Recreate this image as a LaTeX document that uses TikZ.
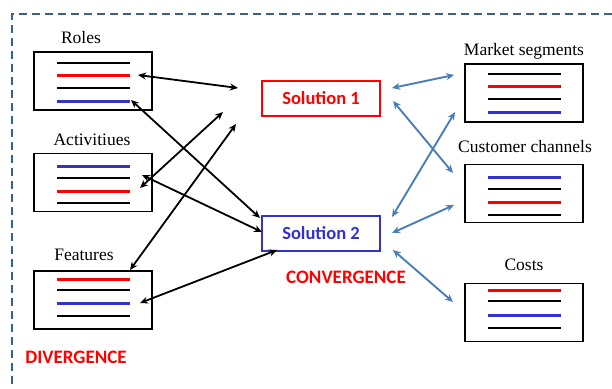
\documentclass[tikz,border=0pt]{standalone}
\usepackage{fontspec}
\setmainfont{Liberation Serif}
\newfontfamily\calibri{Carlito}
\usetikzlibrary{arrows.meta}
\definecolor{steel}{RGB}{74,126,187}
\definecolor{myblue}{RGB}{51,51,204}
\definecolor{framecol}{RGB}{56,98,142}
\tikzset{
  item/.style={draw=black, line width=1.6pt, minimum width=118pt, minimum height=58pt, inner sep=0pt},
  lbl/.style={font=\fontsize{17.5}{19}\selectfont, inner sep=0pt},
  sol/.style={draw, line width=1.3pt, minimum width=118pt, minimum height=35pt, inner sep=0pt, font=\fontsize{18.5}{20}\selectfont\calibri\bfseries},
  big/.style={text=red, inner sep=0pt, font=\fontsize{19}{21}\selectfont\calibri\bfseries},
  bk/.style={black, line width=1.2pt},
  rd/.style={red, line width=3pt},
  bu/.style={myblue, line width=3pt},
  blk/.style={{Stealth[length=8pt,width=7pt]}-{Stealth[length=8pt,width=7pt]}, black, line width=1.8pt},
  stl/.style={{Stealth[length=8pt,width=7pt,inset=2.5pt]}-{Stealth[length=8pt,width=7pt,inset=2.5pt]}, steel, line width=1.9pt},
  frame/.style={framecol, line width=2.3pt, dash pattern=on 8pt off 5pt},
}
\begin{document}
\begin{tikzpicture}[x=1pt,y=-1pt]
\useasboundingbox (0,0) rectangle (612,388);
\draw[frame] (612,14) -- (12,14) -- (12,388);

% left boxes
\node[item] (roles) at (93,81) {};
\node[item] (acts) at (93,182.5) {};
\node[item] (feats) at (93,300) {};
\node[lbl] (rolesl) at (81,38) {Roles};
\node[lbl] (actsl) at (92,140) {Activitiues};
\node[lbl] (featsl) at (84,255) {Features};
\foreach \y/\s in {63/bk,75/rd,88/bk,101/bu,166/bu,178/bk,191/rd,203/bk,279/rd,290/bk,303/bu,316/bk}
  \draw[\s] (57,\y) -- (130,\y);

% right boxes
\node[item] (market) at (524,93) {};
\node[item] (cust) at (524,193.5) {};
\node[item] (costs) at (524,312.5) {};
\node[lbl] (marketl) at (524,51) {Market segments};
\node[lbl] (custl) at (525,147) {Customer channels};
\node[lbl] (costsl) at (524,265) {Costs};
\foreach \y/\s in {74/bk,86/rd,99/bk,112/bu,177/bu,189/bk,202/rd,215/bk,290/rd,301/bk,315/bu,328/bk}
  \draw[\s] (488,\y) -- (561,\y);

% solutions
\node[sol, draw=red, text=red] (sol1) at (321,98.5) {Solution 1};
\node[sol, draw=myblue, text=myblue] (sol2) at (321,233.5) {Solution 2};
\node[big] (conv) at (346,277) {CONVERGENCE};
\node[big] (div) at (76,357) {DIVERGENCE};

% arrow end points
\coordinate (r1) at (138,75);  \coordinate (s1a) at (238,88);
\coordinate (r2) at (131,100); \coordinate (s2a) at (260,218);
\coordinate (a1) at (142,175); \coordinate (s2b) at (262,232);
\coordinate (a2) at (140,188); \coordinate (s1b) at (223,112);
\coordinate (f1) at (130,270); \coordinate (s1c) at (236,124);
\coordinate (f2) at (140,303); \coordinate (s2c) at (277,250);

\draw[blk] (r1) -- (s1a);
\draw[blk] (r2) -- (s2a);
\draw[blk] (a1) -- (s2b);
\draw[blk] (a2) -- (s1b);
\draw[blk] (f1) -- (s1c);
\draw[blk] (f2) -- (s2c);

\coordinate (o1) at (392,88);  \coordinate (m1) at (454,75);
\coordinate (o2) at (393,101); \coordinate (c1) at (453,173);
\coordinate (t1) at (392,217); \coordinate (m2) at (455,112);
\coordinate (t2) at (392,233); \coordinate (c2) at (454,205);
\coordinate (t3) at (393,250); \coordinate (k1) at (453,302);

\draw[stl] (o1) -- (m1);
\draw[stl] (o2) -- (c1);
\draw[stl] (t1) -- (m2);
\draw[stl] (t2) -- (c2);
\draw[stl] (t3) -- (k1);
\end{tikzpicture}
\end{document}
